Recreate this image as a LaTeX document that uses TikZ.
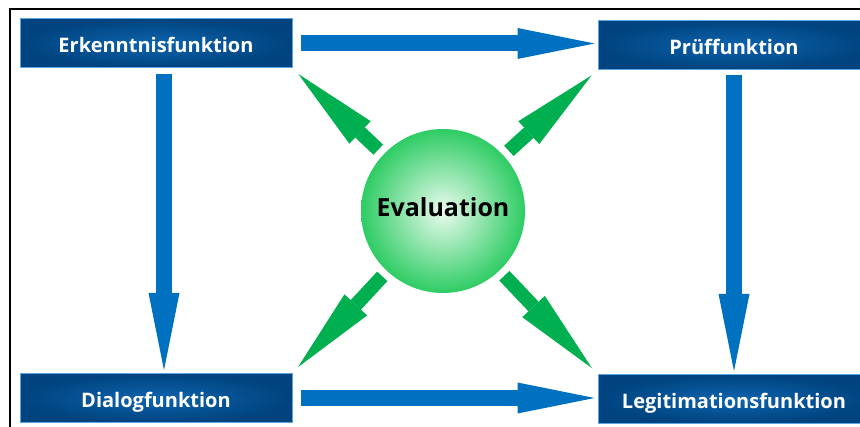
\documentclass[tikz,border=0pt]{standalone}
\usepackage{fontspec}
\setmainfont{Open Sans}
\usepackage{tikz}
\usetikzlibrary{arrows.meta,positioning,calc}
\usepackage{xcolor}

\definecolor{boxdark}{HTML}{00437E}
\definecolor{boxmid}{HTML}{0D63AE}
\definecolor{boxline}{HTML}{5AA5E6}
\definecolor{arrblue}{HTML}{0070C0}
\definecolor{arrgreen}{HTML}{00B050}
\definecolor{evalout}{HTML}{2ECC64}
\definecolor{evalin}{HTML}{EAFBEE}

\begin{document}
\begin{tikzpicture}[x=1pt, y=-1pt,
    funcbox/.style={draw=boxline, line width=1pt, inner color=boxmid, outer color=boxdark,
        minimum width=272pt, minimum height=49pt, inner sep=0pt,
        text height=19pt, text depth=0pt,
        text=white, font=\bfseries\fontsize{20}{24}\selectfont},
    bluearrow/.style={draw=arrblue, line width=16pt,
        -{Triangle[length=77pt,width=31pt,line width=0pt]},
        shorten <=6pt, shorten >=3pt},
    greenarrow/.style={draw=arrgreen, line width=14pt,
        -{Triangle[length=85pt,width=31pt,line width=0pt]},
        shorten <=7pt, shorten >=8pt}]
                    \useasboundingbox (0,0) rectangle (860,427);
                    \fill[white] (0,0) rectangle (860,427);
                    \draw[line width=1.6pt] (10,430) |- (862,9);

                    % Functions
                    \node[funcbox] (erk) at (156,43.5) {Erkenntnisfunktion};
                    \node[funcbox] (pruef) at (734,45) {Prüffunktion};
                    \node[funcbox] (dialog) at (156,398) {Dialogfunktion};
                    \node[funcbox] (legit) at (734,399) {Legitimationsfunktion};

                    % Evaluation
                    \node[circle, minimum size=164pt, inner sep=0pt, inner color=evalin, outer color=evalout,
                        text height=18pt, text depth=6pt,
                        font=\bfseries\fontsize{25}{30}\selectfont] (eval) at (443,211) {Evaluation};

                    % Blue arrows
                    \draw[bluearrow, shorten <=8pt] (erk.east) -- (erk.east -| pruef.west);
                    \draw[bluearrow, shorten <=8pt] (dialog.east) -- (dialog.east -| legit.west);
                    \draw[bluearrow] ([xshift=8pt]erk.south) -- ([xshift=8pt]erk.south |- dialog.north);
                    \draw[bluearrow, shorten <=5pt] (pruef.south) -- (pruef.south |- legit.north);

                    % Green arrows
                    \draw[greenarrow] (eval) -- (erk.south east);
                    \draw[greenarrow] (eval) -- (pruef.south west);
                    \draw[greenarrow] (eval) -- (dialog.north east);
                    \draw[greenarrow] (eval) -- (legit.north west);
                \end{tikzpicture}
\end{document}
